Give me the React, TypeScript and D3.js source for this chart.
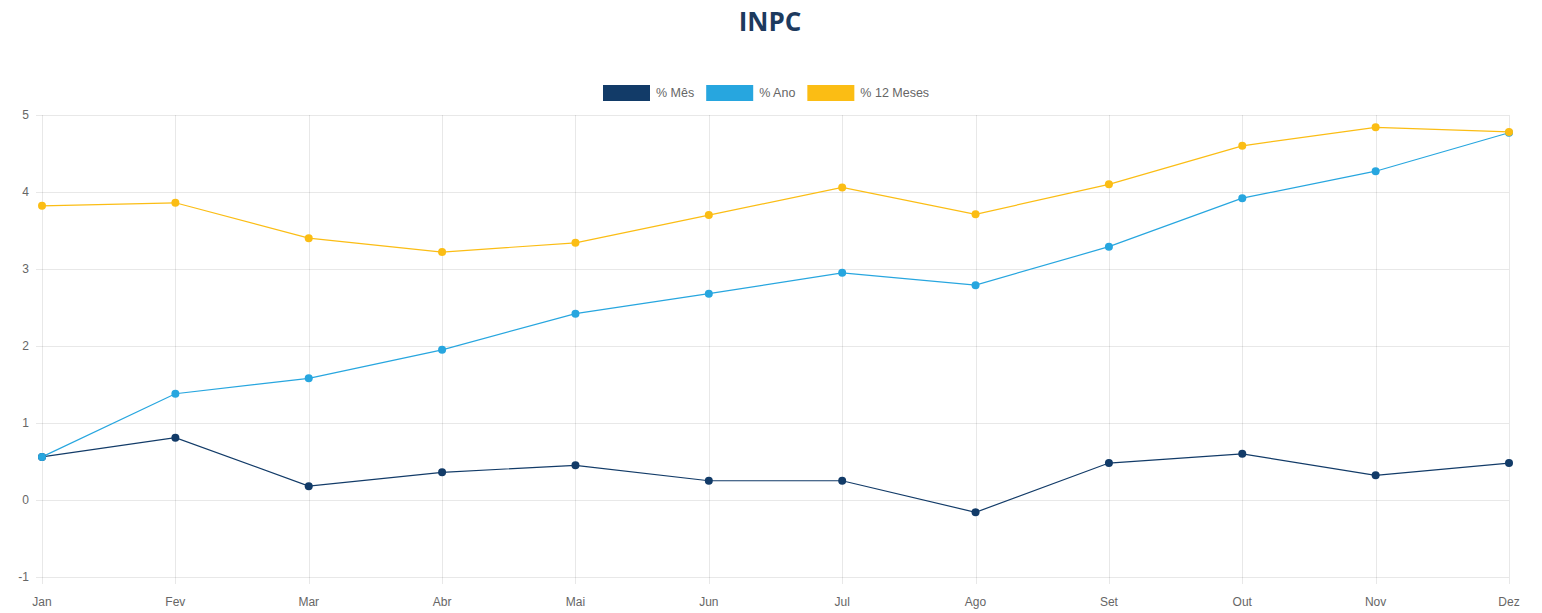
import React, { useRef, useEffect } from 'react'
import * as d3 from 'd3'

const months = ['Jan', 'Fev', 'Mar', 'Abr', 'Mai', 'Jun', 'Jul', 'Ago', 'Set', 'Out', 'Nov', 'Dez']
const mesValues = [0.56, 0.81, 0.18, 0.36, 0.45, 0.25, 0.25, -0.16, 0.48, 0.6, 0.32, 0.48]
const anoValues = [0.56, 1.38, 1.58, 1.95, 2.42, 2.68, 2.95, 2.79, 3.29, 3.92, 4.27, 4.77]
const dozeValues = [3.82, 3.86, 3.4, 3.22, 3.34, 3.7, 4.06, 3.71, 4.1, 4.6, 4.84, 4.78]
const yTicks = [-1, 0, 1, 2, 3, 4, 5]

const series = [
  { name: '% Mês', values: mesValues, color: '#123b68' },
  { name: '% Ano', values: anoValues, color: '#27a6df' },
  { name: '% 12 Meses', values: dozeValues, color: '#fbbd14' },
]

const W = 1542
const H = 613

const App: React.FC = () => {
  const svgRef = useRef<SVGSVGElement>(null)

  useEffect(() => {
    const margin = { top: 115, right: 33, bottom: 36, left: 42 }
    const x = d3
      .scalePoint<string>()
      .domain(months)
      .range([margin.left, W - margin.right])
    const y = d3
      .scaleLinear()
      .domain([-1, 5])
      .range([H - margin.bottom, margin.top])

    const svg = d3.select(svgRef.current!)
    svg.selectAll('*').remove()

    svg
      .append('text')
      .attr('x', 770)
      .attr('y', 31)
      .attr('text-anchor', 'middle')
      .style('font-family', '"Open Sans", sans-serif')
      .style('font-weight', 700)
      .style('font-size', '26px')
      .attr('fill', '#1d3a5e')
      .text('INPC')

    // legend
    const legend = svg.append('g').attr('transform', 'translate(603,85)')
    let lx = 0
    series.forEach((s) => {
      legend
        .append('rect')
        .attr('x', lx)
        .attr('y', 0)
        .attr('width', 47)
        .attr('height', 16)
        .attr('fill', s.color)
      const t = legend
        .append('text')
        .attr('x', lx + 53)
        .attr('y', 12)
        .style('font-family', '"Liberation Sans", Arial, sans-serif')
        .style('font-size', '12.5px')
        .attr('fill', '#666')
        .text(s.name)
      const tw = (t.node() as SVGTextElement).getComputedTextLength()
      lx += 53 + tw + 12
    })

    // grid
    const grid = svg.append('g').attr('stroke', 'rgba(0,0,0,0.09)').attr('stroke-width', 1)
    yTicks.forEach((v) => {
      grid
        .append('line')
        .attr('x1', margin.left - 6)
        .attr('x2', W - margin.right)
        .attr('y1', Math.round(y(v)) + 0.5)
        .attr('y2', Math.round(y(v)) + 0.5)
    })
    months.forEach((m) => {
      grid
        .append('line')
        .attr('x1', Math.round(x(m)!) + 0.5)
        .attr('x2', Math.round(x(m)!) + 0.5)
        .attr('y1', margin.top)
        .attr('y2', H - margin.bottom + 7)
    })

    // y labels
    svg
      .append('g')
      .selectAll('text')
      .data(yTicks)
      .join('text')
      .attr('x', 29)
      .attr('y', (d) => y(d) + 4)
      .attr('text-anchor', 'end')
      .style('font-family', '"Liberation Sans", Arial, sans-serif')
      .style('font-size', '12px')
      .attr('fill', '#666')
      .text((d) => d)

    // x labels
    svg
      .append('g')
      .selectAll('text')
      .data(months)
      .join('text')
      .attr('x', (d) => x(d)!)
      .attr('y', 606)
      .attr('text-anchor', 'middle')
      .style('font-family', '"Liberation Sans", Arial, sans-serif')
      .style('font-size', '12px')
      .attr('fill', '#666')
      .text((d) => d)

    const line = d3
      .line<number>()
      .x((_, i) => x(months[i])!)
      .y((d) => y(d))

    series.forEach((s) => {
      svg
        .append('path')
        .datum(s.values)
        .attr('d', line)
        .attr('fill', 'none')
        .attr('stroke', s.color)
        .attr('stroke-width', 1.2)
    })
    series.forEach((s) => {
      svg
        .append('g')
        .selectAll('circle')
        .data(s.values)
        .join('circle')
        .attr('cx', (_, i) => x(months[i])!)
        .attr('cy', (d) => y(d))
        .attr('r', 4)
        .attr('fill', s.color)
    })
  }, [])

  return (
    <svg
      ref={svgRef}
      width={W}
      height={H}
      style={{ position: 'absolute', left: 0, top: 0, background: '#fff' }}
    />
  )
}

export default App
